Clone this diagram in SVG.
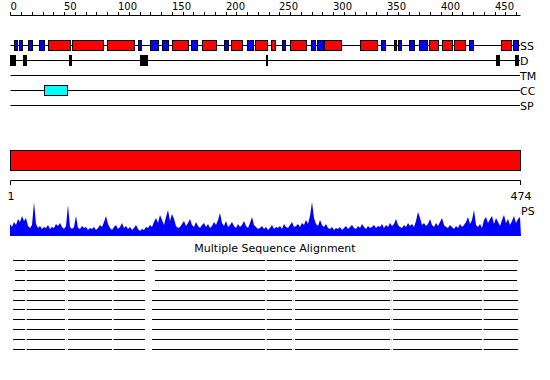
<svg xmlns="http://www.w3.org/2000/svg" xmlns:xlink="http://www.w3.org/1999/xlink" width="550" height="380" viewBox="0 0 550 380">
<style>
text{font-family:"DejaVu Sans","Liberation Sans",sans-serif;fill:#000}
.lbl{font-size:11px}
.num{font-size:10px}
.ln{stroke:#000;stroke-width:1;fill:none}
.h{fill:#ff0000;stroke:#000;stroke-width:1}
.e{fill:#0000ff;stroke:#000;stroke-width:1}
.d{fill:#000}
.gap{stroke:#9a9a9a;stroke-width:1}
</style>
<defs>
<g id="row">
<path class="ln" d="M13 0H25M27 0H65M68 0H112M114 0H145M152 0H265M267 0H292M295 0H390M393 0H482M484 0H518"/>
<path class="gap" d="M26 0h1M66 0h1M113 0h1M266 0h1M293 0h1M391 0h1M483 0h1"/>
</g>
<g id="row2">
<path class="ln" d="M15 0H25M27 0H65M68 0H112M114 0H145M155 0H265M267 0H292M295 0H390M393 0H482M484 0H517"/>
<path class="gap" d="M26 0h1M66 0h1M113 0h1M266 0h1M293 0h1M391 0h1M483 0h1"/>
</g>
</defs>
<rect width="550" height="380" fill="#fff"/>
<g id="ruler">
<path class="ln" d="M10.5 15.5H520.5"/>
<path class="ln" d="M10.5 12V15.5M21.5 12V15.5M32.5 12V15.5M43.5 12V15.5M53.5 12V15.5M64.5 12V15.5M75.5 12V15.5M86.5 12V15.5M96.5 12V15.5M107.5 12V15.5M118.5 12V15.5M129.5 12V15.5M140.5 12V15.5M150.5 12V15.5M161.5 12V15.5M172.5 12V15.5M183.5 12V15.5M193.5 12V15.5M204.5 12V15.5M215.5 12V15.5M226.5 12V15.5M236.5 12V15.5M247.5 12V15.5M258.5 12V15.5M269.5 12V15.5M279.5 12V15.5M290.5 12V15.5M301.5 12V15.5M312.5 12V15.5M322.5 12V15.5M333.5 12V15.5M344.5 12V15.5M355.5 12V15.5M366.5 12V15.5M376.5 12V15.5M387.5 12V15.5M398.5 12V15.5M409.5 12V15.5M419.5 12V15.5M430.5 12V15.5M441.5 12V15.5M452.5 12V15.5M462.5 12V15.5M473.5 12V15.5M484.5 12V15.5M495.5 12V15.5M505.5 12V15.5M516.5 12V15.5"/>
<text class="num" x="10.5" y="10">0</text>
<text class="num" x="64" y="10">50</text>
<text class="num" x="118" y="10">100</text>
<text class="num" x="172" y="10">150</text>
<text class="num" x="226" y="10">200</text>
<text class="num" x="279" y="10">250</text>
<text class="num" x="333" y="10">300</text>
<text class="num" x="387" y="10">350</text>
<text class="num" x="441" y="10">400</text>
<text class="num" x="495" y="10">450</text>
</g>
<g id="track-ss">
<path class="ln" d="M10.5 45.5H520"/>
<rect class="e" x="14.5" y="40.5" width="3" height="10"/>
<rect class="e" x="19.5" y="40.5" width="3" height="10"/>
<rect class="e" x="28.5" y="40.5" width="4" height="10"/>
<rect class="e" x="39.5" y="40.5" width="5" height="10"/>
<rect class="h" x="48.5" y="40.5" width="22" height="10"/>
<rect class="h" x="72.5" y="40.5" width="31" height="10"/>
<rect class="h" x="107.5" y="40.5" width="27" height="10"/>
<rect class="e" x="138.5" y="40.5" width="3" height="10"/>
<rect class="e" x="150.5" y="40.5" width="8" height="10"/>
<rect class="e" x="162.5" y="40.5" width="6" height="10"/>
<rect class="h" x="172.5" y="40.5" width="16" height="10"/>
<rect class="e" x="191.5" y="40.5" width="6" height="10"/>
<rect class="h" x="202.5" y="40.5" width="14" height="10"/>
<rect class="e" x="224.5" y="40.5" width="4" height="10"/>
<rect class="h" x="231.5" y="40.5" width="11" height="10"/>
<rect class="e" x="247.5" y="40.5" width="6" height="10"/>
<rect class="h" x="255.5" y="40.5" width="12" height="10"/>
<rect class="h" x="271.5" y="40.5" width="4" height="10"/>
<rect class="e" x="282.5" y="40.5" width="3" height="10"/>
<rect class="h" x="290.5" y="40.5" width="16" height="10"/>
<rect class="e" x="311.5" y="40.5" width="4" height="10"/>
<rect class="e" x="317.5" y="40.5" width="6" height="10"/>
<rect class="h" x="324.5" y="40.5" width="17" height="10"/>
<rect class="h" x="360.5" y="40.5" width="17" height="10"/>
<rect class="e" x="381.5" y="40.5" width="4" height="10"/>
<rect class="e" x="394.5" y="40.5" width="2" height="10"/>
<rect class="e" x="398.5" y="40.5" width="3" height="10"/>
<rect class="e" x="409.5" y="40.5" width="5" height="10"/>
<rect class="e" x="419.5" y="40.5" width="8" height="10"/>
<rect class="h" x="429.5" y="40.5" width="9" height="10"/>
<rect class="h" x="442.5" y="40.5" width="10" height="10"/>
<rect class="h" x="454.5" y="40.5" width="11" height="10"/>
<rect class="e" x="469.5" y="40.5" width="4" height="10"/>
<rect class="h" x="501.5" y="40.5" width="10" height="10"/>
<rect class="e" x="513.5" y="40.5" width="5" height="10"/>
<text class="lbl" x="520" y="49.5">SS</text>
</g>
<g id="track-d">
<path class="ln" d="M10.5 60.5H520"/>
<rect class="d" x="10" y="55" width="6" height="11"/>
<rect class="d" x="23" y="55" width="4" height="11"/>
<rect class="d" x="69" y="55" width="3" height="11"/>
<rect class="d" x="140" y="55" width="8" height="11"/>
<rect class="d" x="266" y="55" width="2" height="11"/>
<rect class="d" x="496" y="55" width="4" height="11"/>
<rect class="d" x="515" y="55" width="4" height="11"/>
<text class="lbl" x="520" y="64.5">D</text>
</g>
<g id="track-tm">
<path class="ln" d="M10.5 75.5H520"/>
<text class="lbl" x="520" y="79.5">TM</text>
</g>
<g id="track-cc">
<path class="ln" d="M10.5 90.5H520"/>
<rect x="44.5" y="85.5" width="23" height="10" fill="#00ffff" stroke="#000"/>
<text class="lbl" x="520" y="94.5">CC</text>
</g>
<g id="track-sp">
<path class="ln" d="M10.5 105.5H520"/>
<text class="lbl" x="520" y="109.5">SP</text>
</g>
<g id="domain-bar">
<rect x="10.5" y="150.5" width="510" height="20" fill="#ff0000" stroke="#000"/>
</g>
<g id="ruler2">
<path class="ln" d="M10.5 185V180.5H520.5V185"/>
<text class="lbl" x="11" y="200" text-anchor="middle">1</text>
<text class="lbl" x="521" y="200" text-anchor="middle">474</text>
</g>
<g id="ps-plot">
<path fill="#0000ff" d="M10 236L10 224L12 227L14 222L16 225L18 219L20 222L22 216L24 221L26 218L28 226L30 228L32 225L34 202L36 224L38 228L40 226L42 229L44 227L46 228L48 225L50 229L52 227L54 228L56 224L58 226L60 223L62 227L64 229L66 226L68 205L70 227L72 229L74 227L76 216L78 228L80 229L82 226L84 228L86 227L88 230L90 228L92 229L94 227L96 230L98 228L100 225L102 227L104 222L106 216L108 224L110 228L112 230L114 227L116 225L118 229L120 227L122 223L124 228L126 226L128 229L130 227L132 230L134 228L136 225L138 229L140 231L142 229L144 230L146 227L148 228L150 225L152 227L154 222L156 218L158 223L160 215L162 220L164 225L166 217L168 210L170 221L172 214L174 219L176 226L178 228L180 227L182 224L184 221L186 226L188 223L190 219L192 225L194 227L196 222L198 226L200 228L202 225L204 223L206 227L208 224L210 228L212 226L214 222L216 225L218 220L220 213L222 223L224 226L226 221L228 227L230 225L232 222L234 226L236 228L238 224L240 227L242 225L244 221L246 226L248 228L250 223L252 217L254 225L256 227L258 229L260 228L262 226L264 229L266 227L268 230L270 228L272 225L274 229L276 227L278 228L280 226L282 229L284 224L286 227L288 228L290 225L292 222L294 227L296 226L298 224L300 227L302 223L304 225L306 220L308 224L310 216L312 202L314 218L316 224L318 226L320 220L322 225L324 227L326 224L328 228L330 229L332 227L334 230L336 228L338 229L340 227L342 230L344 228L346 226L348 229L350 227L352 225L354 228L356 229L358 226L360 228L362 224L364 227L366 229L368 226L370 228L372 227L374 225L376 228L378 226L380 227L382 224L384 228L386 225L388 227L390 223L392 226L394 224L396 219L398 225L400 227L402 228L404 225L406 227L408 223L410 226L412 224L414 227L416 221L418 212L420 218L422 225L424 223L426 226L428 224L430 219L432 225L434 227L436 223L438 226L440 222L442 218L444 225L446 227L448 228L450 225L452 227L454 229L456 226L458 228L460 224L462 227L464 225L466 222L468 217L470 224L472 220L474 210L476 225L478 227L480 224L482 228L484 220L486 217L488 223L490 219L492 216L494 224L496 218L498 222L500 226L502 220L504 215L506 223L508 219L510 225L512 221L514 216L516 223L518 219L520 217L521 236Z"/>
<text class="lbl" x="521" y="215">PS</text>
</g>
<g id="msa">
<text class="lbl" x="275" y="252" text-anchor="middle">Multiple Sequence Alignment</text>
<use xlink:href="#row" y="260.5"/>
<use xlink:href="#row2" y="270.5"/>
<use xlink:href="#row2" y="280.5"/>
<use xlink:href="#row" y="290.5"/>
<use xlink:href="#row" y="300.5"/>
<use xlink:href="#row" y="309.5"/>
<use xlink:href="#row" y="319.5"/>
<use xlink:href="#row" y="329.5"/>
<use xlink:href="#row" y="339.5"/>
<use xlink:href="#row" y="349.5"/>
</g>
</svg>
